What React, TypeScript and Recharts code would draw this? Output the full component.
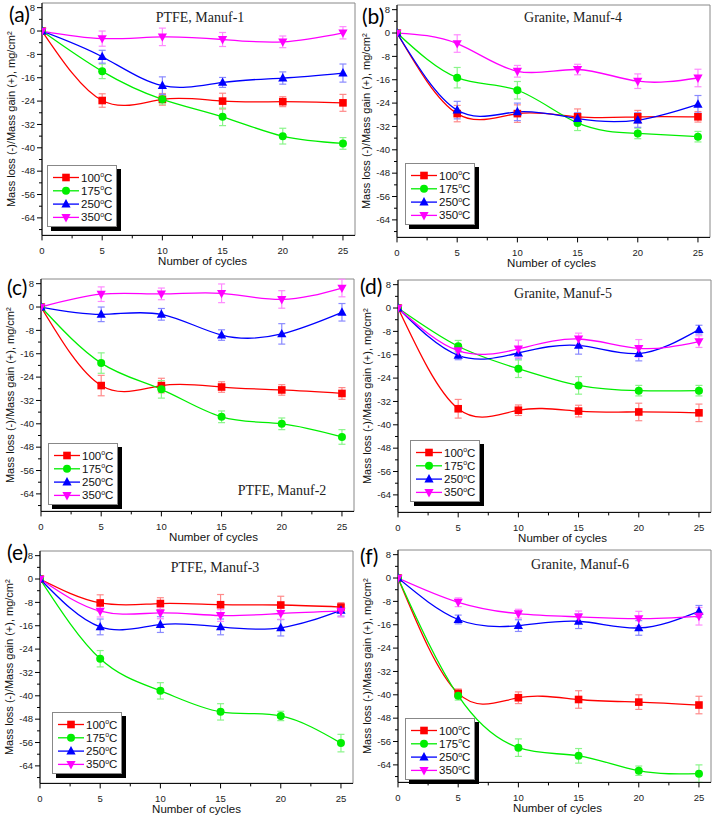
import React from "react";
import { ErrorBar, Legend, Line, LineChart, ReferenceArea, XAxis, YAxis } from "recharts";

const CYCLES = [0, 5, 10, 15, 20, 25];
const X_TICKS = [0, 2.5, 5, 7.5, 10, 12.5, 15, 17.5, 20, 22.5, 25];
const Y_TICKS = [-68, -64, -60, -56, -52, -48, -44, -40, -36, -32, -28, -24, -20, -16, -12, -8, -4, 0, 4, 8];
const TEMPS = ["100", "175", "250", "350"];

// (a) PTFE, Manuf-1
const A_100 = [0, -23.8, -23.4, -24.0, -24.2, -24.6];
const A_175 = [0, -13.8, -23.4, -29.4, -36.0, -38.5];
const A_250 = [0, -8.8, -18.7, -17.6, -16.1, -14.4];
const A_350 = [0, -2.6, -2.0, -2.9, -3.7, -0.6];
const A_100_ERR = [null, 2.3, 2.0, 2.7, 1.7, 2.9];
const A_175_ERR = [null, 2.5, 1.6, 3.0, 2.7, 2.0];
const A_250_ERR = [null, 2.2, 3.0, 1.7, 2.1, 3.1];
const A_350_ERR = [null, 2.6, 3.0, 2.4, 2.0, 2.1];

// (b) Granite, Manuf-4
const B_100 = [0, -27.6, -27.6, -28.7, -28.7, -28.7];
const B_175 = [0, -15.3, -19.6, -30.8, -34.4, -35.5];
const B_250 = [0, -26.4, -27.0, -29.3, -29.8, -24.4];
const B_350 = [0, -3.6, -13.1, -12.5, -16.5, -15.4];
const B_100_ERR = [null, 2.8, 3.0, 2.7, 2.2, 1.8];
const B_175_ERR = [null, 3.5, 3.0, 2.6, 1.8, 1.8];
const B_250_ERR = [null, 3.0, 3.0, 2.0, 2.5, 3.0];
const B_350_ERR = [null, 3.0, 2.0, 1.8, 2.5, 3.0];

// (c) PTFE, Manuf-2
const C_100 = [0, -26.9, -26.9, -27.4, -28.4, -29.6];
const C_175 = [0, -19.2, -28.2, -37.6, -40.0, -44.5];
const C_250 = [0, -2.5, -2.5, -9.6, -9.2, -1.8];
const C_350 = [0, 4.4, 4.5, 4.7, 2.6, 6.5];
const C_100_ERR = [null, 3.5, 2.5, 1.8, 1.8, 2.0];
const C_175_ERR = [null, 3.5, 3.0, 2.0, 2.0, 2.5];
const C_250_ERR = [null, 2.5, 2.0, 1.8, 3.5, 3.0];
const C_350_ERR = [null, 2.5, 2.0, 3.2, 3.0, 3.0];

// (d) Granite, Manuf-5
const D_100 = [0, -34.5, -35.0, -35.3, -35.6, -35.9];
const D_175 = [0, -13.1, -20.8, -26.5, -28.3, -28.3];
const D_250 = [0, -16.2, -15.4, -12.8, -15.6, -7.4];
const D_350 = [0, -14.6, -14.0, -10.6, -13.8, -11.5];
const D_100_ERR = [null, 3.2, 1.8, 2.0, 3.0, 3.0];
const D_175_ERR = [null, 2.0, 3.0, 3.0, 1.8, 1.8];
const D_250_ERR = [null, 1.5, 2.0, 3.0, 2.5, 1.5];
const D_350_ERR = [null, 2.0, 3.0, 2.0, 3.0, 2.0];

// (e) PTFE, Manuf-3
const E_100 = [0, -8.2, -8.4, -8.8, -8.9, -9.6];
const E_175 = [0, -27.3, -38.3, -45.5, -46.9, -56.2];
const E_250 = [0, -16.4, -15.6, -16.4, -16.7, -10.7];
const E_350 = [0, -11.0, -11.6, -12.5, -11.8, -11.0];
const E_100_ERR = [null, 2.8, 2.0, 3.5, 3.0, 1.5];
const E_175_ERR = [null, 2.8, 2.8, 2.8, 1.6, 3.0];
const E_250_ERR = [null, 2.7, 2.7, 2.7, 2.8, 2.0];
const E_350_ERR = [null, 2.0, 2.0, 2.0, 2.0, 2.0];

// (f) Granite, Manuf-6
const F_100 = [0, -39.5, -41.0, -41.6, -42.5, -43.5];
const F_175 = [0, -40.3, -58.1, -60.9, -66.0, -67.0];
const F_250 = [0, -14.2, -16.3, -14.8, -17.1, -11.4];
const F_350 = [0, -8.3, -12.2, -13.3, -13.9, -13.1];
const F_100_ERR = [null, 1.5, 2.0, 3.0, 2.5, 3.0];
const F_175_ERR = [null, 1.5, 3.0, 2.5, 1.6, 3.0];
const F_250_ERR = [null, 1.5, 2.0, 2.5, 2.5, 2.0];
const F_350_ERR = [null, 1.5, 1.5, 2.0, 2.5, 3.0];

const SERIES = [
  { temp: "100", color: "#ff0000", err: "#ff8a8a", shape: "square" },
  { temp: "175", color: "#00ee00", err: "#8af58a", shape: "circle" },
  { temp: "250", color: "#0000ff", err: "#8a8aff", shape: "up" },
  { temp: "350", color: "#ff00ff", err: "#ff8aff", shape: "down" }
];

// chart geometry (same for every panel)
const W = 358;
const H = 272;
const PLOT_LEFT = 42;
const PLOT_TOP = 3;
const PLOT_W = 313;
const PLOT_H = 232.4;
const SANS = "'Liberation Sans', Arial, sans-serif";

const PANELS = [
  {
    tag: "(a)", title: "PTFE, Manuf-1", left: 0, top: 0,
    titleX: 200, titleY: 22, tagX: 9, tagY: 22, legendX: 47, legendY: 165, xTitleDx: 4,
    values: [A_100, A_175, A_250, A_350], errors: [A_100_ERR, A_175_ERR, A_250_ERR, A_350_ERR]
  },
  {
    tag: "(b)", title: "Granite, Manuf-4", left: 355, top: 2,
    titleX: 218, titleY: 20, tagX: 7, tagY: 22, legendX: 50, legendY: 161, xTitleDx: -2,
    values: [B_100, B_175, B_250, B_350], errors: [B_100_ERR, B_175_ERR, B_250_ERR, B_350_ERR]
  },
  {
    tag: "(c)", title: "PTFE, Manuf-2", left: -1, top: 275.5,
    titleX: 283, titleY: 219, tagX: 8, tagY: 18.5, legendX: 49, legendY: 167, xTitleDx: 16,
    values: [C_100, C_175, C_250, C_350], errors: [C_100_ERR, C_175_ERR, C_250_ERR, C_350_ERR]
  },
  {
    tag: "(d)", title: "Granite, Manuf-5", left: 356, top: 277,
    titleX: 207, titleY: 21, tagX: 4, tagY: 17, legendX: 54, legendY: 163, xTitleDx: 8,
    values: [D_100, D_175, D_250, D_350], errors: [D_100_ERR, D_175_ERR, D_250_ERR, D_350_ERR]
  },
  {
    tag: "(e)", title: "PTFE, Manuf-3", left: -2, top: 548,
    titleX: 217, titleY: 24, tagX: 9, tagY: 12, legendX: 54, legendY: 164, xTitleDx: 0,
    values: [E_100, E_175, E_250, E_350], errors: [E_100_ERR, E_175_ERR, E_250_ERR, E_350_ERR]
  },
  {
    tag: "(f)", title: "Granite, Manuf-6", left: 356, top: 547,
    titleX: 224, titleY: 22, tagX: 4, tagY: 17, legendX: 49, legendY: 171, xTitleDx: 3,
    values: [F_100, F_175, F_250, F_350], errors: [F_100_ERR, F_175_ERR, F_250_ERR, F_350_ERR]
  }
];

function buildRows(values: number[][], errors: (number | null)[][]) {
  return CYCLES.map((cycle, i) => {
    const row: Record<string, number | null> = { cycle };
    TEMPS.forEach((t, k) => {
      row["t" + t] = values[k][i];
      row["e" + t] = errors[k][i];
    });
    return row;
  });
}

function Marker({ shape, cx, cy, color }: { shape: string; cx: number; cy: number; color: string }) {
  if (cx == null || cy == null) return null;
  if (shape === "square") return <rect x={cx - 3.8} y={cy - 3.8} width={7.6} height={7.6} fill={color} />;
  if (shape === "circle") return <circle cx={cx} cy={cy} r={4} fill={color} />;
  if (shape === "up")
    return <polygon points={`${cx},${cy - 5} ${cx + 4.6},${cy + 3.4} ${cx - 4.6},${cy + 3.4}`} fill={color} />;
  return <polygon points={`${cx},${cy + 5} ${cx + 4.6},${cy - 3.4} ${cx - 4.6},${cy - 3.4}`} fill={color} />;
}

function YTick({ x, y, payload }: any) {
  const v = payload.value;
  const major = v % 8 === 0;
  const ax = x + 7;
  return (
    <g>
      <line x1={ax} x2={ax - (major ? 5 : 3)} y1={y} y2={y} stroke="#000" />
      {major && (
        <text x={ax - 7} y={y} dy="0.35em" textAnchor="end" fontSize={9.5} fontFamily={SANS} fill="#222">
          {v}
        </text>
      )}
    </g>
  );
}

function XTick({ x, y, payload }: any) {
  const v = payload.value;
  const major = v % 5 === 0;
  const ay = y - 7;
  return (
    <g>
      <line x1={x} x2={x} y1={ay} y2={ay + (major ? 5 : 3)} stroke="#000" />
      {major && (
        <text x={x} y={ay + 19} textAnchor="middle" fontSize={9.5} fontFamily={SANS} fill="#222">
          {v}
        </text>
      )}
    </g>
  );
}

function LegendBox() {
  return (
    <div style={{ width: 68, height: 60, background: "#fff", border: "1px solid #888", boxShadow: "4px 4px 0 #000" }}>
      <svg width={68} height={60} style={{ display: "block" }}>
        {SERIES.map((s, i) => {
          const y = 11.5 + i * 13.3;
          return (
            <g key={s.temp}>
              <line x1={5} x2={31} y1={y} y2={y} stroke={s.color} strokeWidth={1.3} />
              <Marker shape={s.shape} cx={18} cy={y} color={s.color} />
              <text x={33} y={y + 4} fontSize={11.5} fontFamily={SANS} fill="#111">
                {s.temp}
                <tspan fontSize={7} dy={-4.5}>o</tspan>
                <tspan dy={4.5}>C</tspan>
              </text>
            </g>
          );
        })}
      </svg>
    </div>
  );
}

function Panel({ p }: { p: (typeof PANELS)[number] }) {
  const rows = buildRows(p.values, p.errors as (number | null)[][]);
  return (
    <div style={{ position: "absolute", left: p.left, top: p.top, width: W, height: H }}>
      <LineChart width={W} height={H} data={rows} margin={{ top: PLOT_TOP, right: W - PLOT_LEFT - PLOT_W, bottom: H - PLOT_TOP - PLOT_H - 30, left: 0 }}>
        <ReferenceArea x1={0} x2={26} y1={-70} y2={9.6} fill="none" stroke="#888" strokeWidth={1} ifOverflow="visible" />
        <XAxis
          dataKey="cycle"
          type="number"
          domain={[0, 26]}
          ticks={X_TICKS}
          interval={0}
          allowDataOverflow
          height={30}
          tickSize={5}
          tickMargin={2}
          tickLine={false}
          axisLine={{ stroke: "#000" }}
          tick={(t: any) => <XTick {...t} />}
        />
        <YAxis
          type="number"
          domain={[-70, 9.6]}
          ticks={Y_TICKS}
          interval={0}
          allowDataOverflow
          width={PLOT_LEFT}
          tickSize={5}
          tickMargin={2}
          tickLine={false}
          axisLine={{ stroke: "#000" }}
          tick={(t: any) => <YTick {...t} />}
        />
        {SERIES.map((s) => (
          <Line
            key={s.temp}
            dataKey={"t" + s.temp}
            type="natural"
            stroke={s.color}
            strokeWidth={1.3}
            isAnimationActive={false}
            activeDot={false}
            dot={(d: any) => <Marker key={s.temp + "-" + d.index} shape={s.shape} cx={d.cx} cy={d.cy} color={s.color} />}
          >
            <ErrorBar dataKey={"e" + s.temp} direction="y" width={3.5} stroke={s.err} strokeWidth={1.2} isAnimationActive={false} />
          </Line>
        ))}
        <Legend
          layout="horizontal"
          verticalAlign="middle"
          align="center"
          wrapperStyle={{ left: p.legendX, top: p.legendY, width: "auto", height: "auto" }}
          content={() => <LegendBox />}
        />
      </LineChart>
      <svg width={W} height={H} style={{ position: "absolute", left: 0, top: 0, overflow: "visible", pointerEvents: "none" }}>
        <text x={p.tagX} y={p.tagY} fontSize={21} fontFamily="Lato, 'Open Sans', sans-serif" fill="#000">
          {p.tag}
        </text>
        <text x={p.titleX} y={p.titleY} textAnchor="middle" fontSize={14} fontFamily="'Liberation Serif', 'Times New Roman', serif" fill="#222">
          {p.title}
        </text>
        <text
          transform={`translate(${PLOT_LEFT - 27.5}, ${PLOT_TOP + PLOT_H / 2}) rotate(-90)`}
          textAnchor="middle"
          fontSize={11}
          fontFamily={SANS}
          fill="#111"
        >
          Mass loss (-)/Mass gain (+), mg/cm²
        </text>
        <text x={PLOT_LEFT + PLOT_W / 2 + p.xTitleDx} y={PLOT_TOP + PLOT_H + 29.5} textAnchor="middle" fontSize={11.5} fontFamily={SANS} fill="#111">
          Number of cycles
        </text>
      </svg>
    </div>
  );
}

export default function App() {
  return (
    <div style={{ position: "absolute", left: 0, top: 0, width: 715, height: 817, overflow: "hidden", background: "#fff" }}>
      {PANELS.map((p) => (
        <Panel key={p.tag} p={p} />
      ))}
    </div>
  );
}
